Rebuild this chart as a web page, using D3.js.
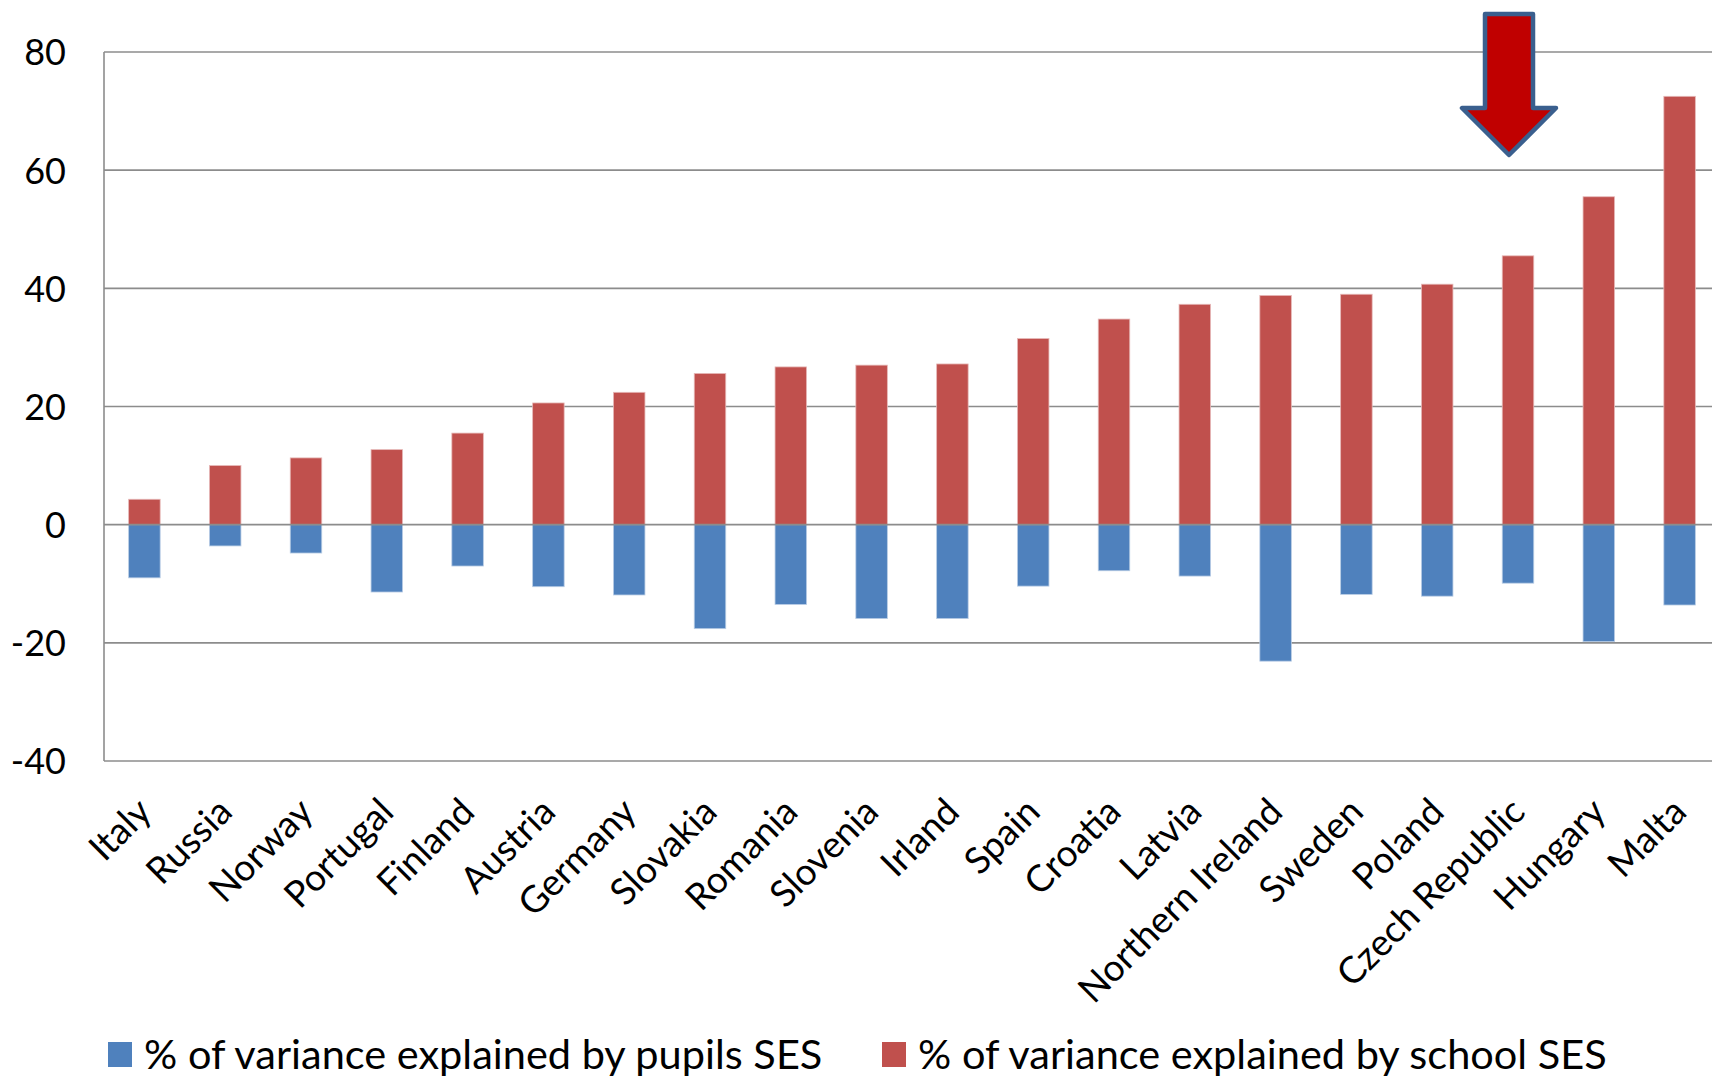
<!DOCTYPE html>
<html>
<head>
<meta charset="utf-8">
<script src="https://cdn.jsdelivr.net/npm/d3@7"></script>
<style>
  body { margin: 0; background: #fff; }
  svg text { font-family: Lato, "Open Sans", sans-serif; fill: #000; }
</style>
</head>
<body>
<div class="chart--container"></div>
<script>
let countries = ['Italy', 'Russia', 'Norway', 'Portugal', 'Finland', 'Austria', 'Germany', 'Slovakia',
                 'Romania', 'Slovenia', 'Irland', 'Spain', 'Croatia', 'Latvia', 'Northern Ireland',
                 'Sweden', 'Poland', 'Czech Republic', 'Hungary', 'Malta'],
    pupilsSES = [-9.0, -3.6, -4.8, -11.4, -7.0, -10.5, -11.9, -17.6, -13.5, -15.9,
                 -15.9, -10.4, -7.8, -8.7, -23.1, -11.8, -12.1, -9.9, -19.8, -13.6],
    schoolSES = [4.3, 10.0, 11.3, 12.7, 15.5, 20.6, 22.4, 25.6, 26.7, 27.0,
                 27.2, 31.5, 34.8, 37.3, 38.8, 39.0, 40.7, 45.5, 55.5, 72.5],
    yTicks = [-40, -20, 0, 20, 40, 60, 80],
    seriesNames = ['% of variance explained by pupils SES', '% of variance explained by school SES'],
    highlighted = 'Czech Republic';

let W = 1712, H = 1080,
    plot = {l: 104, r: 1720, t: 52, b: 761},
    blue = '#4F81BD',
    red = '#C0504D',
    gridColor = '#8C8C8C';

let svg = d3.select('.chart--container')
            .append('svg')
            .attr('width', W)
            .attr('height', H);

// scales
let scale_x = d3.scaleBand()
                .domain(countries)
                .range([plot.l, plot.r])
                .paddingInner(0.61)
                .paddingOuter(0.305);

let scale_y = d3.scaleLinear()
                .domain([-40, 80])
                .range([plot.b, plot.t]);

// horizontal gridlines
svg.append('g')
    .selectAll('line')
    .data(yTicks.filter(t => t !== 0))
    .enter()
    .append('line')
    .attr('x1', plot.l)
    .attr('x2', W)
    .attr('y1', d => scale_y(d))
    .attr('y2', d => scale_y(d))
    .attr('stroke', gridColor)
    .attr('stroke-width', 1.6);

// y-axis: labels only, the line is drawn separately
let yAxis = svg.append('g')
    .attr('transform', `translate(${plot.l}, 0)`)
    .call(d3.axisLeft(scale_y)
            .tickValues(yTicks)
            .tickFormat(d => String(d))   // plain hyphen like the original
            .tickSize(0)
            .tickPadding(38));
yAxis.select('.domain').remove();
yAxis.selectAll('text')
    .style('font-size', '36px')
    .attr('dy', '0.36em');

svg.append('line')
    .attr('x1', plot.l).attr('x2', plot.l)
    .attr('y1', scale_y(80)).attr('y2', scale_y(-40))
    .attr('stroke', gridColor)
    .attr('stroke-width', 1.6);

// school SES bars (positive)
svg.append('g')
    .selectAll('rect')
    .data(countries)
    .enter()
    .append('rect')
    .attr('x', c => scale_x(c))
    .attr('y', (c, i) => scale_y(schoolSES[i]))
    .attr('width', scale_x.bandwidth())
    .attr('height', (c, i) => scale_y(0) - scale_y(schoolSES[i]))
    .attr('fill', red)
    .attr('stroke', '#E6B9B8')
    .attr('stroke-width', 0.8);

// pupils SES bars (negative)
svg.append('g')
    .selectAll('rect')
    .data(countries)
    .enter()
    .append('rect')
    .attr('x', c => scale_x(c))
    .attr('y', scale_y(0))
    .attr('width', scale_x.bandwidth())
    .attr('height', (c, i) => scale_y(pupilsSES[i]) - scale_y(0))
    .attr('fill', blue)
    .attr('stroke', '#B9CDE5')
    .attr('stroke-width', 0.8);

// zero line on top
svg.append('line')
    .attr('x1', plot.l).attr('x2', W)
    .attr('y1', scale_y(0)).attr('y2', scale_y(0))
    .attr('stroke', gridColor)
    .attr('stroke-width', 1.6);

// x labels, rotated
svg.append('g')
    .selectAll('text')
    .data(countries)
    .enter()
    .append('text')
    .attr('text-anchor', 'end')
    .attr('transform', c => `translate(${scale_x(c) + scale_x.bandwidth() / 2 + 9}, ${plot.b + 53}) rotate(-45)`)
    .style('font-size', '37px')
    .text(c => c);

// arrow pointing at the highlighted country
let ax = scale_x(highlighted) + scale_x.bandwidth() / 2 - 9,
    arrowTop = 14, wingY = 108, tipY = 155, shaftHalf = 24, wingHalf = 47;
svg.append('path')
    .attr('d', `M${ax - shaftHalf},${arrowTop} L${ax + shaftHalf},${arrowTop} L${ax + shaftHalf},${wingY}
                L${ax + wingHalf},${wingY} L${ax},${tipY} L${ax - wingHalf},${wingY}
                L${ax - shaftHalf},${wingY} Z`)
    .attr('fill', '#C00000')
    .attr('stroke', '#3A5F8E')
    .attr('stroke-width', 4.5)
    .attr('stroke-linejoin', 'round');

// legend
let legend = svg.append('g')
    .selectAll('g')
    .data(seriesNames)
    .enter()
    .append('g')
    .attr('transform', (d, i) => `translate(${i === 0 ? 108 : 882}, 1042)`);

legend.append('rect')
    .attr('width', 24)
    .attr('height', 25)
    .attr('fill', (d, i) => i === 0 ? blue : red);

legend.append('text')
    .attr('x', 36)
    .attr('y', 27)
    .style('font-size', '41.5px')
    .text(d => d);
</script>
</body>
</html>
